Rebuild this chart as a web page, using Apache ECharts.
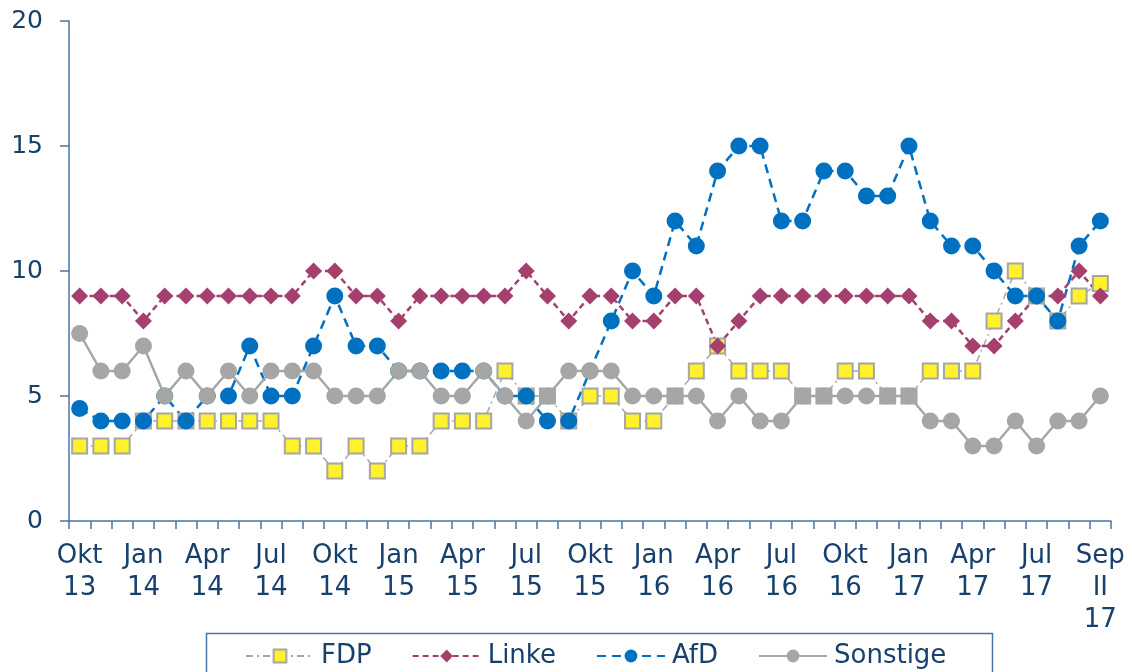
<!DOCTYPE html>
<html>
<head>
<meta charset="utf-8">
<script src="https://cdn.jsdelivr.net/npm/echarts@6/dist/echarts.min.js"></script>
<style>
html,body{margin:0;padding:0;background:#fff;}
#chart{width:1132px;height:672px;}
</style>
</head>
<body>
<div id="chart"></div>
<script>
var categories = [
  "Okt\n13","Nov\n13","Dez\n13",
  "Jan\n14","Feb\n14","Mär\n14","Apr\n14","Mai\n14","Jun\n14","Jul\n14","Aug\n14","Sep\n14","Okt\n14","Nov\n14","Dez\n14",
  "Jan\n15","Feb\n15","Mär\n15","Apr\n15","Mai\n15","Jun\n15","Jul\n15","Aug\n15","Sep\n15","Okt\n15","Nov\n15","Dez\n15",
  "Jan\n16","Feb\n16","Mär\n16","Apr\n16","Mai\n16","Jun\n16","Jul\n16","Aug\n16","Sep\n16","Okt\n16","Nov\n16","Dez\n16",
  "Jan\n17","Feb\n17","Mär\n17","Apr\n17","Mai\n17","Jun\n17","Jul\n17","Aug\n17","Sep\n17","Sep\nII\n17"
];
var fdp = [3,3,3,4,4,4,4,4,4,4,3,3,2,3,2,3,3,4,4,4,6,5,5,4,5,5,4,4,5,6,7,6,6,6,5,5,6,6,5,5,6,6,6,8,10,9,8,9,9.5];
var linke = [9,9,9,8,9,9,9,9,9,9,9,10,10,9,9,8,9,9,9,9,9,10,9,8,9,9,8,8,9,9,7,8,9,9,9,9,9,9,9,9,8,8,7,7,8,9,9,10,9];
var afd = [4.5,4,4,4,5,4,5,5,7,5,5,7,9,7,7,6,6,6,6,6,5,5,4,4,6,8,10,9,12,11,14,15,15,12,12,14,14,13,13,15,12,11,11,10,9,9,8,11,12];
var sonstige = [7.5,6,6,7,5,6,5,6,5,6,6,6,5,5,5,6,6,5,5,6,5,4,5,6,6,6,5,5,5,5,4,5,4,4,5,5,5,5,5,5,4,4,3,3,4,3,4,4,5];
var yTicks = {min: 0, max: 20, step: 5};

var GRAY = '#A6A6A6', YELLOW = '#FFF12B', LINKE = '#A5406E', AFD = '#0070C0';
var TXT = '#17406D', AXIS = '#4A74A4';
var FONT = 'DejaVu Sans';

var fdpData = fdp.map(function (v, i) {
  if (v === sonstige[i]) return {value: v, itemStyle: {color: GRAY}};
  return v;
});

var chart = echarts.init(document.getElementById('chart'));
chart.setOption({
  animation: false,
  textStyle: {fontFamily: FONT},
  grid: {left: 69, right: 21, top: 21, bottom: 151},
  graphic: [{
    type: 'rect', left: 204, top: 631, silent: true,
    shape: {width: 786, height: 60},
    style: {fill: 'none', stroke: AXIS, lineWidth: 1.5}
  }],
  legend: {
    left: 240, top: 638,
    itemWidth: 68, itemHeight: 16, itemGap: 40,
    textStyle: {fontFamily: FONT, fontSize: 26, color: TXT, padding: [0, 0, 0, 2]},
    data: ['FDP', 'Linke', 'AfD', 'Sonstige']
  },
  xAxis: {
    type: 'category', data: categories, boundaryGap: true,
    axisLine: {lineStyle: {color: AXIS, width: 1.5}},
    axisTick: {show: true, interval: 0, length: 8, lineStyle: {color: AXIS, width: 1.5}},
    axisLabel: {interval: 2, color: TXT, fontFamily: FONT, fontSize: 26, lineHeight: 32, margin: 19}
  },
  yAxis: {
    type: 'value', min: yTicks.min, max: yTicks.max, interval: yTicks.step,
    axisLine: {show: true, lineStyle: {color: AXIS, width: 1.5}},
    axisTick: {show: true, length: 9, lineStyle: {color: AXIS, width: 1.5}},
    splitLine: {show: false},
    axisLabel: {color: TXT, fontFamily: FONT, fontSize: 25, margin: 26}
  },
  series: [
    {
      name: 'FDP', type: 'line', data: fdpData, showAllSymbol: true,
      symbol: 'rect', symbolSize: 15,
      itemStyle: {color: YELLOW, borderColor: GRAY, borderWidth: 2},
      lineStyle: {color: GRAY, width: 1.5, type: [7, 4, 2, 4]}
    },
    {
      name: 'Linke', type: 'line', data: linke, showAllSymbol: true,
      symbol: 'diamond', symbolSize: 17,
      itemStyle: {color: LINKE},
      lineStyle: {color: LINKE, width: 2.5, type: [6, 4]}
    },
    {
      name: 'AfD', type: 'line', data: afd, showAllSymbol: true,
      symbol: 'circle', symbolSize: 17,
      itemStyle: {color: AFD},
      lineStyle: {color: AFD, width: 2.5, type: [9, 6]}
    },
    {
      name: 'Sonstige', type: 'line', data: sonstige, showAllSymbol: true,
      symbol: 'circle', symbolSize: 17,
      itemStyle: {color: GRAY},
      lineStyle: {color: GRAY, width: 2.5, type: 'solid'}
    }
  ]
});
</script>
</body>
</html>
